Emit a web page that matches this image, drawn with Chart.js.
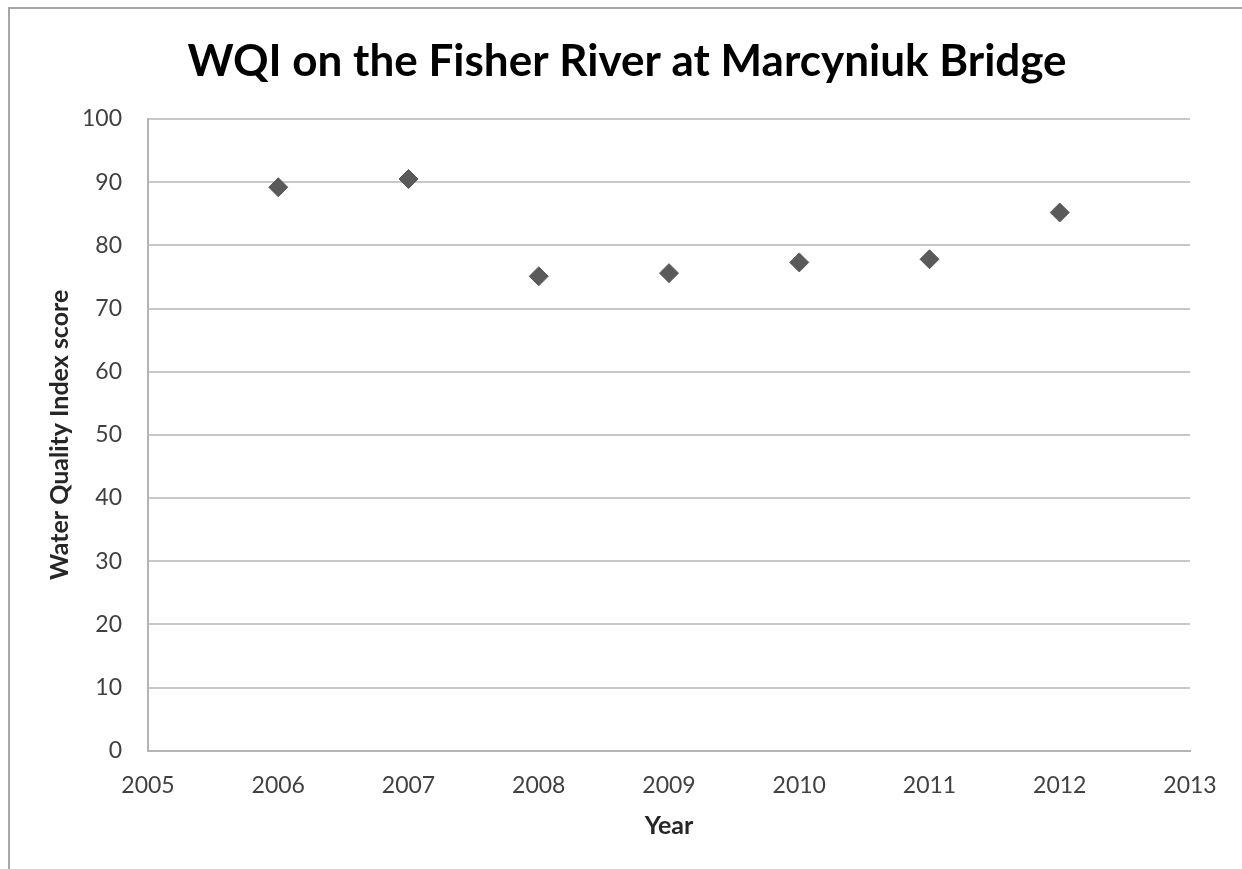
<!DOCTYPE html>
<html>
<head>
<meta charset="utf-8">
<script src="https://cdn.jsdelivr.net/npm/chart.js@4.4.0/dist/chart.umd.min.js"></script>
<style>
  html, body { margin: 0; padding: 0; background: #ffffff; }
  #wrap { position: relative; width: 1242px; height: 869px; overflow: hidden; }
  #frame { position: absolute; left: 8px; top: 7px; width: 1300px; height: 900px; border-left: 2px solid #a6a6a6; border-top: 2px solid #a6a6a6; box-sizing: border-box; }
  canvas { position: absolute; left: 0; top: 0; }
</style>
</head>
<body>
<div id="wrap">
  <div id="frame"></div>
  <canvas id="c" width="1242" height="869"></canvas>
</div>
<script>
const titleText = "WQI on the Fisher River at Marcyniuk Bridge";
const xAxisTitle = "Year";
const yAxisTitle = "Water Quality Index score";
const years = [2006, 2007, 2008, 2009, 2010, 2011, 2012];
const wqiScores = [89.2, 90.5, 75.1, 75.6, 77.3, 77.8, 85.2];
const xTickMin = 2005, xTickMax = 2013, xTickStep = 1;
const yTickMin = 0, yTickMax = 100, yTickStep = 10;

const points = years.map((yr, i) => ({ x: yr, y: wqiScores[i] }));
const FONT = "Lato, 'Open Sans', sans-serif";

new Chart(document.getElementById('c'), {
  type: 'scatter',
  data: {
    datasets: [{
      label: 'WQI',
      data: points,
      pointStyle: 'rectRot',
      pointRadius: 9.5,
      pointHoverRadius: 9.5,
      backgroundColor: '#5a5a5a',
      borderColor: '#5a5a5a',
      borderWidth: 1
    }]
  },
  options: {
    responsive: false,
    animation: false,
    devicePixelRatio: 1,
    layout: { padding: { left: 64, right: 52, top: 0, bottom: 0 } },
    plugins: {
      legend: { display: false },
      tooltip: { enabled: false },
      title: {
        display: true,
        text: titleText,
        color: '#000000',
        font: { family: FONT, size: 44, weight: 'bold', lineHeight: 1.2 },
        padding: { top: 35.6, bottom: 30.6 }
      }
    },
    scales: {
      x: {
        type: 'linear',
        min: xTickMin,
        max: xTickMax,
        afterFit: (s) => { s.height = 118.3; },
        ticks: {
          stepSize: xTickStep,
          color: '#404040',
          font: { family: FONT, size: 23 },
          padding: 21,
          callback: (v) => String(v)
        },
        grid: { display: false, drawTicks: false },
        border: { display: true, color: '#b4b4b4', width: 2 },
        title: {
          display: true,
          text: xAxisTitle,
          color: '#262626',
          font: { family: FONT, size: 25, weight: 'bold', lineHeight: 1.2 },
          padding: { top: 0, bottom: 28 }
        }
      },
      y: {
        type: 'linear',
        min: yTickMin,
        max: yTickMax,
        afterFit: (s) => { s.width = 84; },
        ticks: {
          stepSize: yTickStep,
          color: '#404040',
          font: { family: FONT, size: 23 },
          padding: 26
        },
        grid: { display: true, color: '#c8c8c8', lineWidth: 2, drawTicks: false },
        border: { display: true, color: '#b4b4b4', width: 2 },
        title: {
          display: true,
          text: yAxisTitle,
          color: '#262626',
          font: { family: FONT, size: 25, weight: 'bold', lineHeight: 1.2 },
          padding: { top: -19, bottom: 0 }
        }
      }
    }
  }
});
</script>
</body>
</html>
